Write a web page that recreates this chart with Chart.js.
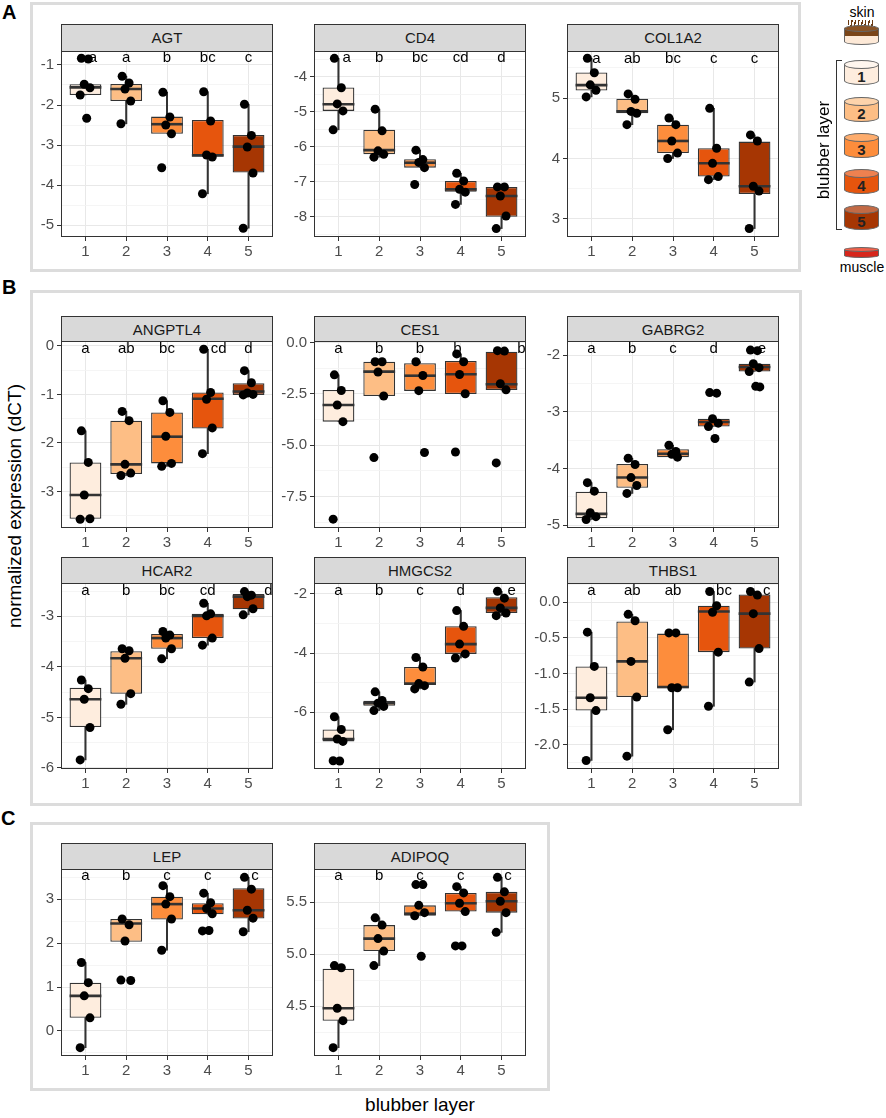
<!DOCTYPE html>
<html><head><meta charset="utf-8">
<script src="https://cdn.jsdelivr.net/npm/chart.js@4.4.1/dist/chart.umd.min.js"></script>
<style>
body{margin:0;background:#fff;}
#page{position:relative;width:886px;height:1118px;overflow:hidden;font-family:'Liberation Sans',Arial,Helvetica,sans-serif;color:#000;}
.frame{position:absolute;border:3px solid #dcdcdc;box-sizing:border-box;}
.strip{position:absolute;background:#d9d9d9;border:1px solid #333;box-sizing:border-box;font-size:15px;color:#1a1a1a;text-align:center;line-height:25px;}
.plab{position:absolute;font-weight:bold;font-size:20px;}
.txt{position:absolute;white-space:nowrap;}
canvas{position:absolute;}
</style></head>
<body><div id="page"></div>
<script>
// ---------------- DATA ----------------
const LAYERS = ['1','2','3','4','5'];
const FILLS = ['#FEEDDE','#FDBE85','#FD8D3C','#E6550D','#A63603'];
const GENES = ['AGT','CD4','COL1A2','ANGPTL4','CES1','GABRG2','HCAR2','HMGCS2','THBS1','LEP','ADIPOQ'];

// box stats per layer: [lower whisker, Q1, median, Q3, upper whisker]
const AGT_box = [[-1.75,-1.75,-1.56,-1.48,-1.48],[-2.47,-1.9,-1.6,-1.475,-1.28],[-2.72,-2.72,-2.48,-2.29,-1.68],[-4.22,-3.29,-3.26,-2.375,-1.67],[-5.08,-3.69,-3.04,-2.75,-1.98]];
const AGT_points = [[-0.83,-0.85,-1.48,-1.57,-1.75,-2.33],[-1.28,-1.45,-1.6,-1.9,-2.47],[-1.68,-2.3,-2.5,-2.72,-3.57],[-1.67,-2.4,-3.25,-3.3,-4.22],[-1.98,-2.76,-3.05,-3.7,-5.08]];
const AGT_letters = ['a','a','b','bc','c'];
const AGT_ticks = ['-5','-4','-3','-2','-1'];

const CD4_box = [[-5.52,-4.98,-4.79,-4.31,-3.48],[-6.3,-6.22,-6.1,-5.52,-4.93],[-6.6,-6.6,-6.46,-6.36,-6.1],[-7.65,-7.29,-7.22,-6.98,-6.76],[-8.34,-8.0,-7.41,-7.15,-7.15]];
const CD4_points = [[-3.48,-4.32,-4.78,-4.98,-5.52],[-4.93,-5.55,-6.12,-6.22,-6.3],[-6.1,-6.37,-6.45,-6.6,-7.08],[-6.76,-6.98,-7.22,-7.3,-7.65],[-7.15,-7.15,-7.41,-7.98,-8.34]];
const CD4_letters = ['a','b','bc','cd','d'];
const CD4_ticks = ['-8','-7','-6','-5','-4'];

const COL1A2_box = [[5.02,5.127,5.215,5.425,5.66],[4.56,4.75,4.78,4.99,5.07],[4.0,4.09,4.29,4.56,4.67],[3.65,3.70,3.92,4.17,4.83],[2.84,3.41,3.54,4.28,4.39]];
const COL1A2_points = [[5.66,5.42,5.22,5.13,5.02],[5.07,4.98,4.78,4.75,4.56],[4.67,4.56,4.29,4.09,4.0],[4.83,4.17,3.92,3.7,3.65],[4.39,4.29,3.54,3.46,2.84]];
const COL1A2_letters = ['a','ab','bc','c','c'];
const COL1A2_ticks = ['3','4','5'];

const ANGPTL4_box = [[-3.56,-3.56,-3.07,-2.40,-1.75],[-2.67,-2.64,-2.44,-1.54,-1.35],[-2.48,-2.42,-1.87,-1.37,-1.13],[-2.22,-1.70,-1.09,-0.96,-0.07],[-1.01,-1.01,-0.94,-0.77,-0.51]];
const ANGPTL4_points = [[-1.75,-2.4,-3.07,-3.56,-3.57],[-1.35,-1.54,-2.44,-2.62,-2.67],[-1.13,-1.37,-1.86,-2.42,-2.48],[-0.07,-0.96,-1.1,-1.69,-2.22],[-0.51,-0.76,-0.97,-1.0,-1.01]];
const ANGPTL4_letters = ['a','ab','bc','cd','d'];
const ANGPTL4_ticks = ['-3','-2','-1','0'];

const CES1_box = [[-3.85,-3.85,-3.04,-2.31,-1.57],[-2.6,-2.6,-1.41,-0.93,-0.93],[-2.35,-2.35,-1.61,-1.0,-0.93],[-2.5,-2.5,-1.54,-0.89,-0.55],[-2.31,-2.31,-2.03,-0.44,-0.39]];
const CES1_points = [[-1.57,-2.33,-3.04,-3.85,-8.6],[-0.93,-0.93,-1.43,-2.6,-5.6],[-0.93,-1.6,-2.34,-5.35],[-0.55,-0.93,-1.55,-2.49,-5.33],[-0.39,-0.41,-2.0,-2.3,-5.86]];
const CES1_letters = ['a','b','b','b','b'];
const CES1_ticks = ['-7.5','-5.0','-2.5','0.0'];

const GABRG2_box = [[-4.9,-4.88,-4.8,-4.41,-4.25],[-4.44,-4.34,-4.16,-3.92,-3.82],[-3.8,-3.8,-3.74,-3.66,-3.59],[-3.26,-3.26,-3.18,-3.12,-3.12],[-2.29,-2.29,-2.21,-2.15,-2.15]];
const GABRG2_points = [[-4.25,-4.4,-4.78,-4.85,-4.9],[-3.82,-3.93,-4.16,-4.3,-4.44],[-3.59,-3.7,-3.75,-3.8],[-2.66,-2.67,-3.12,-3.2,-3.26,-3.47],[-1.91,-1.92,-2.15,-2.22,-2.29,-2.55,-2.56]];
const GABRG2_letters = ['a','b','c','d','e'];
const GABRG2_ticks = ['-5','-4','-3','-2'];

const HCAR2_box = [[-5.84,-5.19,-4.64,-4.41,-4.26],[-4.74,-4.53,-3.83,-3.69,-3.64],[-3.84,-3.64,-3.43,-3.35,-3.3],[-3.57,-3.43,-2.99,-2.95,-2.74],[-2.97,-2.86,-2.61,-2.56,-2.51]];
const HCAR2_points = [[-4.26,-4.43,-4.64,-5.2,-5.84],[-3.64,-3.68,-3.83,-4.53,-4.74],[-3.3,-3.37,-3.43,-3.64,-3.84],[-2.74,-2.95,-2.99,-3.43,-3.57],[-2.51,-2.58,-2.61,-2.85,-2.97]];
const HCAR2_letters = ['a','b','bc','cd','d'];
const HCAR2_ticks = ['-6','-5','-4','-3'];

const HMGCS2_box = [[-6.98,-6.98,-6.9,-6.58,-6.15],[-5.94,-5.78,-5.69,-5.61,-5.31],[-5.21,-5.08,-5.03,-4.47,-4.15],[-4.17,-4.03,-3.7,-3.1,-2.57],[-2.74,-2.65,-2.48,-2.12,-1.92]];
const HMGCS2_points = [[-6.15,-6.58,-6.9,-6.98,-7.63,-7.64],[-5.31,-5.6,-5.69,-5.8,-5.94],[-4.15,-4.47,-5.03,-5.1,-5.21],[-2.57,-3.1,-3.7,-4.03,-4.17],[-1.92,-2.15,-2.48,-2.65,-2.74]];
const HMGCS2_letters = ['a','b','c','d','e'];
const HMGCS2_ticks = ['-6','-4','-2'];

const THBS1_box = [[-2.22,-1.52,-1.34,-0.9,-0.42],[-2.16,-1.33,-0.83,-0.27,-0.17],[-1.79,-1.2,-1.19,-0.44,-0.43],[-1.46,-0.7,-0.13,-0.05,0.15],[-1.12,-0.65,-0.16,0.11,0.15]];
const THBS1_points = [[-0.42,-0.9,-1.34,-1.52,-2.22],[-0.17,-0.26,-0.83,-1.33,-2.16],[-0.43,-0.43,-1.2,-1.2,-1.79],[0.15,-0.05,-0.14,-0.7,-1.46],[0.15,0.1,-0.16,-0.65,-1.12]];
const THBS1_letters = ['a','ab','ab','bc','c'];
const THBS1_ticks = ['-2.0','-1.5','-1.0','-0.5','0.0'];

const LEP_box = [[-0.38,0.3,0.8,1.1,1.56],[2.03,2.03,2.45,2.55,2.55],[1.84,2.54,2.89,3.06,3.31],[2.66,2.66,2.79,2.91,3.14],[2.26,2.56,2.75,3.25,3.5]];
const LEP_points = [[1.56,1.1,0.8,0.3,-0.38],[2.55,2.42,2.05,1.15,1.16],[3.31,3.06,2.89,2.55,1.84],[3.14,2.92,2.79,2.67,2.28,2.29],[3.5,3.23,2.75,2.57,2.26]];
const LEP_letters = ['a','b','c','c','c'];
const LEP_ticks = ['0','1','2','3'];

const ADIPOQ_box = [[4.1,4.36,4.48,4.86,4.89],[4.89,5.03,5.15,5.28,5.35],[5.37,5.37,5.39,5.47,5.47],[5.41,5.41,5.49,5.59,5.65],[5.21,5.4,5.51,5.6,5.74]];
const ADIPOQ_points = [[4.89,4.87,4.48,4.36,4.1],[5.35,5.28,5.15,5.03,4.89],[5.67,5.67,5.47,5.4,5.37,4.98],[5.65,5.59,5.49,5.41,5.08,5.08],[5.74,5.6,5.51,5.4,5.21]];
const ADIPOQ_letters = ['a','b','c','c','c'];
const ADIPOQ_ticks = ['4.5','5.0','5.5'];

// height (data units) where the significance letters sit, per gene (same order as GENES)
const LETTER_Y = [-0.83, -3.48, 5.65, -0.06, -0.28, -1.88, -2.5, -1.89, 0.16, 3.53, 5.75];

const DATA = {
  AGT:{box:AGT_box,points:AGT_points,letters:AGT_letters,ticks:AGT_ticks},
  CD4:{box:CD4_box,points:CD4_points,letters:CD4_letters,ticks:CD4_ticks},
  COL1A2:{box:COL1A2_box,points:COL1A2_points,letters:COL1A2_letters,ticks:COL1A2_ticks},
  ANGPTL4:{box:ANGPTL4_box,points:ANGPTL4_points,letters:ANGPTL4_letters,ticks:ANGPTL4_ticks},
  CES1:{box:CES1_box,points:CES1_points,letters:CES1_letters,ticks:CES1_ticks},
  GABRG2:{box:GABRG2_box,points:GABRG2_points,letters:GABRG2_letters,ticks:GABRG2_ticks},
  HCAR2:{box:HCAR2_box,points:HCAR2_points,letters:HCAR2_letters,ticks:HCAR2_ticks},
  HMGCS2:{box:HMGCS2_box,points:HMGCS2_points,letters:HMGCS2_letters,ticks:HMGCS2_ticks},
  THBS1:{box:THBS1_box,points:THBS1_points,letters:THBS1_letters,ticks:THBS1_ticks},
  LEP:{box:LEP_box,points:LEP_points,letters:LEP_letters,ticks:LEP_ticks},
  ADIPOQ:{box:ADIPOQ_box,points:ADIPOQ_points,letters:ADIPOQ_letters,ticks:ADIPOQ_ticks}
};

// ---------------- LAYOUT / STYLE ----------------
const ROWS = [{st:24,t:51,b:237},{st:316,t:341,b:528},{st:557,t:583,b:769},{st:843,t:869,b:1056}];
const COLS = [{l:61,r:273},{l:314,r:526},{l:567,r:779}];
const PANELS = [
  {gene:'AGT',col:0,row:0,ymin:-5.3,ymax:-0.65},
  {gene:'CD4',col:1,row:0,ymin:-8.58,ymax:-3.27},
  {gene:'COL1A2',col:2,row:0,ymin:2.70,ymax:5.78},
  {gene:'ANGPTL4',col:0,row:1,ymin:-3.75,ymax:0.1},
  {gene:'CES1',col:1,row:1,ymin:-9.03,ymax:0.08},
  {gene:'GABRG2',col:2,row:1,ymin:-5.05,ymax:-1.75},
  {gene:'HCAR2',col:0,row:2,ymin:-6.02,ymax:-2.34},
  {gene:'HMGCS2',col:1,row:2,ymin:-7.91,ymax:-1.64},
  {gene:'THBS1',col:2,row:2,ymin:-2.34,ymax:0.27},
  {gene:'LEP',col:0,row:3,ymin:-0.57,ymax:3.69},
  {gene:'ADIPOQ',col:1,row:3,ymin:4.02,ymax:5.82}
];
// horizontal nudges of letters (category units), as placed in the figure
const LETTER_NUDGE = {
  AGT:[0.18,0,0,0,0], CD4:[0.2,0,0,0,0], COL1A2:[0.12,0,0,0,0],
  ANGPTL4:[0,0,0,0.27,0], CES1:[0,0,0,-0.08,0.49], GABRG2:[0,0,0,0,0.18],
  HCAR2:[0,0,0,0,0.49], HMGCS2:[0,0,0,0,0.25], THBS1:[0,0,0,0.25,0.3],
  LEP:[0,0,0,0,0.16], ADIPOQ:[0,0,0,0,0.16]
};
const JITTER = [-0.1,0.07,-0.03,0.11,-0.13,0.03,0.13];
const FONT = "'Liberation Sans', Arial, Helvetica, sans-serif";

const page = document.getElementById('page');
function el(cls, css, html){const d=document.createElement('div');if(cls)d.className=cls;d.style.cssText=css;if(html!==undefined)d.innerHTML=html;page.appendChild(d);return d;}

// frames and panel labels
el('frame','left:30px;top:2px;width:771px;height:270px;');
el('frame','left:30px;top:290px;width:772px;height:516px;');
el('frame','left:30px;top:822px;width:520px;height:269px;');
el('plab','left:2px;top:1px;','A');
el('plab','left:2px;top:276px;','B');
el('plab','left:1px;top:807px;','C');
el('txt','left:15px;top:506px;font-size:19px;transform:translate(-50%,-50%) rotate(-90deg);','normalized expression (dCT)');
el('txt','left:420px;top:1105px;font-size:19px;transform:translate(-50%,-50%);','blubber layer');

Chart.defaults.font.family = FONT;

function buildPanel(p){
  const gi = GENES.indexOf(p.gene);
  const d = DATA[p.gene];
  const col = COLS[p.col], row = ROWS[p.row];
  const padL = 44, padT = 14, padR = 10, padB = 28;
  const W = col.r - col.l, H = row.b - row.t;
  el('strip', `left:${col.l}px;top:${row.st}px;width:${W}px;height:${row.t-row.st+1}px;`, p.gene);
  const cv = document.createElement('canvas');
  cv.width = W + padL + padR; cv.height = H + padT + padB;
  cv.style.cssText = `left:${col.l-padL}px;top:${row.t-padT}px;width:${cv.width}px;height:${cv.height}px;`;
  page.appendChild(cv);

  const major = d.ticks.map(Number);
  const step = Math.abs(major[1]-major[0]);
  const lo = Math.min(...major), hi = Math.max(...major);
  const minor = [];
  for (let k = -1; k <= major.length; k++) {
    const v = +(lo + step*k + step/2).toFixed(6);
    if (v > p.ymin && v < p.ymax && v < hi + step) minor.push(v);
  }
  const isMajor = v => major.some(m => Math.abs(m-v) < 1e-6);
  const labelOf = v => { const k = major.findIndex(m => Math.abs(m-v) < 1e-6); return k >= 0 ? d.ticks[k] : ''; };
  const allTicks = major.concat(minor).sort((a,b)=>a-b);

  const pts = [];
  d.points.forEach((grp,i) => grp.forEach((v,j) => pts.push({x: i+1+JITTER[j % JITTER.length], y: v})));

  const extras = {
    id: 'extras',
    afterDatasetDraw(chart, args){
      const ds = chart.data.datasets[args.index];
      if (!ds.medians) return;
      const ctx = chart.ctx, ys = chart.scales.y;
      ctx.save(); ctx.strokeStyle = '#333'; ctx.lineWidth = 2.6;
      args.meta.data.forEach((e,i) => {
        const pr = e.getProps(['x','width'], true);
        const y = ys.getPixelForValue(ds.medians[i]);
        ctx.beginPath(); ctx.moveTo(pr.x - pr.width/2, y); ctx.lineTo(pr.x + pr.width/2, y); ctx.stroke();
      });
      ctx.restore();
    },
    afterDatasetsDraw(chart){
      const ctx = chart.ctx, xs = chart.scales.x, ys = chart.scales.y;
      ctx.save(); ctx.fillStyle = '#000'; ctx.font = `15px ${FONT}`; ctx.textAlign = 'center'; ctx.textBaseline = 'middle';
      d.letters.forEach((t,i) => ctx.fillText(t, xs.getPixelForValue(i+1+LETTER_NUDGE[p.gene][i]), ys.getPixelForValue(LETTER_Y[gi])));
      ctx.restore();
    },
    afterDraw(chart){
      const a = chart.chartArea, ctx = chart.ctx;
      ctx.save(); ctx.strokeStyle = '#333'; ctx.lineWidth = 1;
      ctx.strokeRect(Math.round(a.left)+0.5, Math.round(a.top)+0.5, Math.round(a.right-a.left)-1, Math.round(a.bottom-a.top)-1);
      ctx.restore();
    }
  };

  new Chart(cv, {
    type: 'bar',
    data: { datasets: [
      {type:'scatter', data: pts, backgroundColor:'#000', borderWidth:0, pointRadius:4.5, pointHoverRadius:4.5, order:0},
      {type:'bar', data: d.box.map((s,i)=>({x:i+1, y:[s[1], s[3]]})), medians: d.box.map(s=>s[2]),
        backgroundColor: FILLS, borderColor:'#333', borderWidth:1.3, borderSkipped:false, grouped:false,
        categoryPercentage:1, barPercentage:0.78, order:2},
      {type:'bar', data: d.box.map((s,i)=>({x:i+1, y:[s[0], s[1]]})), backgroundColor:'#333', borderWidth:0, grouped:false, maxBarThickness:1.4, categoryPercentage:1, barPercentage:1, order:3},
      {type:'bar', data: d.box.map((s,i)=>({x:i+1, y:[s[3], s[4]]})), backgroundColor:'#333', borderWidth:0, grouped:false, maxBarThickness:1.4, categoryPercentage:1, barPercentage:1, order:3}
    ]},
    options: {
      responsive:false, animation:false,
      layout:{padding:{left:0, top:padT, right:padR, bottom:0}},
      plugins:{legend:{display:false}, tooltip:{enabled:false}},
      scales:{
        x:{type:'linear', min:0.4, max:5.6, offset:false,
          afterBuildTicks: s => { s.ticks = LAYERS.map(v => ({value:Number(v)})); },
          afterFit: s => { s.height = padB; },
          ticks:{callback: v => LAYERS[Math.round(v)-1] || '', color:'#4d4d4d', font:{size:15}, padding:2, maxRotation:0, autoSkip:false},
          grid:{offset:false, color:'#e8e8e8', lineWidth:1, tickColor:'#333', tickLength:4, tickWidth:1},
          border:{display:false}},
        y:{type:'linear', min:p.ymin, max:p.ymax, beginAtZero:false,
          afterBuildTicks: s => { s.ticks = allTicks.map(v => ({value:v})); },
          afterFit: s => { s.width = padL; },
          ticks:{callback: v => labelOf(v), color:'#4d4d4d', font:{size:15}, padding:3, autoSkip:false},
          grid:{color: c => isMajor(c.tick.value) ? '#e8e8e8' : '#f2f2f2',
                lineWidth: c => isMajor(c.tick.value) ? 1 : 0.8,
                tickColor: c => isMajor(c.tick.value) ? '#333' : 'rgba(0,0,0,0)',
                tickLength:4, tickWidth:1},
          border:{display:false}}
      }
    },
    plugins:[extras]
  });
}
PANELS.forEach(buildPanel);

// ---------------- right-hand schematic ----------------
function cylinder(x, y, w, h, e, top, body, label){
  el('', `position:absolute;left:${x}px;top:${y+e/2}px;width:${w}px;height:${h-e/2}px;background:${body};border:1px solid #666;box-sizing:border-box;border-radius:0 0 ${w/2}px ${w/2}px / 0 0 ${e/2}px ${e/2}px;`);
  el('', `position:absolute;left:${x}px;top:${y}px;width:${w}px;height:${e}px;background:${top};border:1px solid #666;box-sizing:border-box;border-radius:50%;`);
  if (label) el('txt', `left:${x}px;top:${y+e}px;width:${w}px;height:${h-e}px;line-height:${h-e}px;text-align:center;font-weight:bold;font-size:15px;color:#222;`, label);
}
el('txt','left:862px;top:12px;font-size:14px;transform:translate(-50%,-50%);','skin');
el('', 'position:absolute;left:848px;top:20px;width:27px;height:8px;background:repeating-linear-gradient(100deg,#6b3a12 0 1.3px,transparent 1.3px 3.4px);');
cylinder(844, 25, 35, 20, 7, '#8a5426', 'linear-gradient(#7a4519 0 45%, #fde9d7 45%)', '');
const CYL_TOP = ['#fff6ee','#fdd3ab','#fdac6d','#ee8150','#c26a45'];
const CYL_Y = [60, 97, 133, 169, 205];
LAYERS.forEach((l,i) => cylinder(844, CYL_Y[i], 35, 25, 9, CYL_TOP[i], FILLS[i], l));
cylinder(844, 247, 35, 11, 5, '#f2604a', '#d7261b', '');
el('txt','left:862px;top:267px;font-size:14px;transform:translate(-50%,-50%);','muscle');
el('', 'position:absolute;left:836px;top:60px;width:6px;height:170px;border-left:1px solid #333;border-top:1px solid #333;border-bottom:1px solid #333;box-sizing:border-box;');
el('txt','left:824px;top:150px;font-size:17px;transform:translate(-50%,-50%) rotate(-90deg);','blubber layer');
</script>
</body></html>
